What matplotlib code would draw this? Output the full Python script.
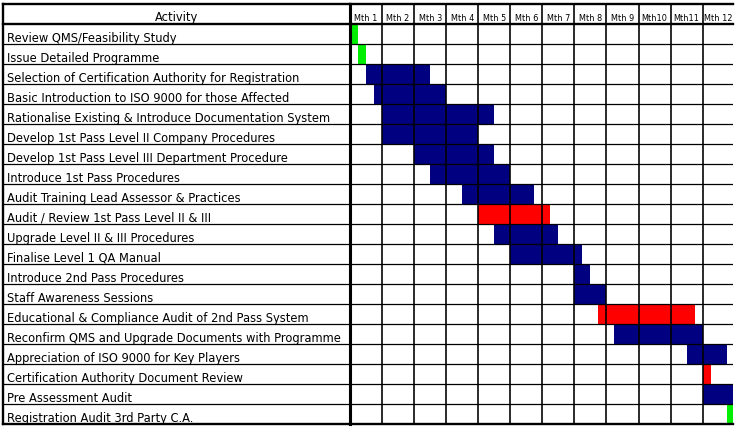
import matplotlib
matplotlib.use("Agg")
import matplotlib.pyplot as plt
from matplotlib.patches import Rectangle

# ---- data ----
activities = [
    "Review QMS/Feasibility Study",
    "Issue Detailed Programme",
    "Selection of Certification Authority for Registration",
    "Basic Introduction to ISO 9000 for those Affected",
    "Rationalise Existing & Introduce Documentation System",
    "Develop 1st Pass Level II Company Procedures",
    "Develop 1st Pass Level III Department Procedure",
    "Introduce 1st Pass Procedures",
    "Audit Training Lead Assessor & Practices",
    "Audit / Review 1st Pass Level II & III",
    "Upgrade Level II & III Procedures",
    "Finalise Level 1 QA Manual",
    "Introduce 2nd Pass Procedures",
    "Staff Awareness Sessions",
    "Educational & Compliance Audit of 2nd Pass System",
    "Reconfirm QMS and Upgrade Documents with Programme",
    "Appreciation of ISO 9000 for Key Players",
    "Certification Authority Document Review",
    "Pre Assessment Audit",
    "Registration Audit 3rd Party C.A.",
]
start_month = [0, 0.25, 0.5, 0.75, 1.0, 1.0, 2.0, 2.5, 3.5, 4.0,
               4.5, 5.0, 7.0, 7.0, 7.75, 8.25, 10.5, 11.0, 11.0, 11.75]
duration = [0.25, 0.25, 2.0, 2.25, 3.5, 3.0, 2.5, 2.5, 2.25, 2.25,
            2.0, 2.25, 0.5, 1.0, 3.0, 2.75, 1.25, 0.25, 1.0, 0.25]
kind = ["milestone", "milestone", "task", "task", "task", "task", "task", "task",
        "task", "audit", "task", "task", "task", "task", "audit", "task", "task",
        "audit", "task", "milestone"]
month_labels = ["Mth 1", "Mth 2", "Mth 3", "Mth 4", "Mth 5", "Mth 6", "Mth 7",
                "Mth 8", "Mth 9", "Mth10", "Mth11", "Mth 12"]
header = "Activity"

colors = {"task": "#000080", "audit": "#ff0000", "milestone": "#00ee00"}

W, H = 740, 428
fig = plt.figure(figsize=(W / 100, H / 100), dpi=100)
fig.patch.set_facecolor("white")

font = "DejaVu Sans"
n = len(activities)
month_px = 32.06
bottom_px = 424.3
top_px = 4.3
axh = (bottom_px - top_px) / H
axb = (H - bottom_px) / H

gx0, gx1 = 350, 733
axg = fig.add_axes([gx0 / W, axb, (gx1 - gx0) / W, axh])
axl = fig.add_axes([3 / W, axb, (gx0 - 3) / W, axh])

for ax in (axg, axl):
    ax.set_ylim(n, -1)
    ax.axis("off")

axg.set_xlim(0, (gx1 - gx0) / month_px)
axl.set_xlim(0, 1)

thin = 0.9
thick = 1.7

# bars
for i, (s, d, k) in enumerate(zip(start_month, duration, kind)):
    axg.add_patch(Rectangle((s, i), d, 1, facecolor=colors[k], edgecolor="none", zorder=1))

# grid in gantt
for i in range(1, n):
    axg.axhline(i, color="black", lw=thin, zorder=3)
for m in range(1, len(month_labels)):
    axg.axvline(m, color="black", lw=thin * 1.3, zorder=3)
for y in (-1, 0, n):
    axg.axhline(y, color="black", lw=thick, zorder=3, clip_on=False)
axg.axvline(0, color="black", lw=thick * 1.3, zorder=3, clip_on=False)

for m, lab in enumerate(month_labels):
    axg.text(m + 0.5, -0.18, lab, ha="center", va="baseline", fontsize=5.9,
             family=font, zorder=4, clip_on=True)

# left activity column
for i in range(1, n):
    axl.axhline(i, color="black", lw=thin, zorder=3)
for y in (-1, 0, n):
    axl.axhline(y, color="black", lw=thick, zorder=3, clip_on=False)
axl.axvline(0, color="black", lw=thick, zorder=3, clip_on=False)

axl.text(0.5, -0.18, header, ha="center", va="baseline", fontsize=8.3, family=font)
for i, a in enumerate(activities):
    axl.text(4 / 347, i + 0.88, a, ha="left", va="baseline", fontsize=8.3, family=font)

fig.savefig("out.png", dpi=100, facecolor="white")
